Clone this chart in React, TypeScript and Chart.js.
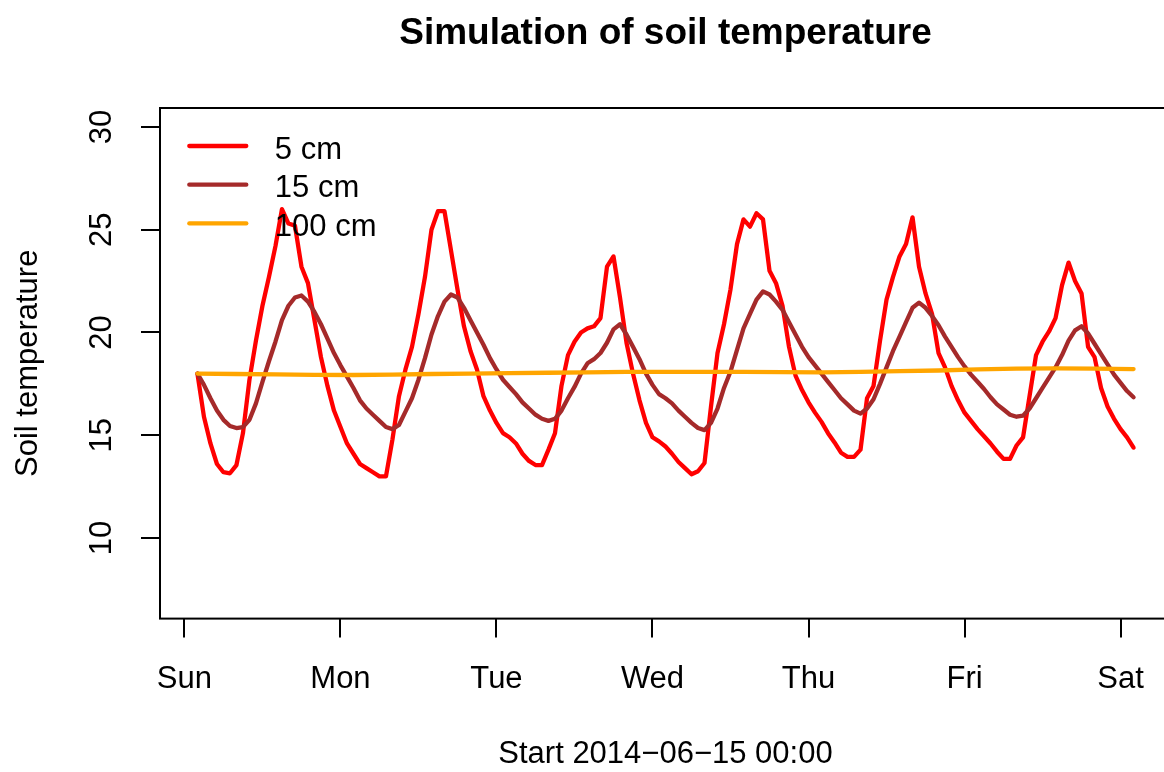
import React, { useEffect, useRef } from "react";
import { Chart, registerables } from "chart.js";

Chart.register(...registerables);

const FONT = '"Liberation Sans", Arial, Helvetica, sans-serif';

// ---- texts ----
const chartTitle = "Simulation of soil temperature";
const xAxisTitle = "Start 2014\u221206\u221215 00:00";
const yAxisTitle = "Soil temperature";

// ---- axes ----
const dayLabels = ["Sun", "Mon", "Tue", "Wed", "Thu", "Fri", "Sat"];
const dayTicks = [0, 24, 48, 72, 96, 120, 144]; // hours since Sun 00:00
const tempTicks = [10, 15, 20, 25, 30];
const yLimits = [7, 30];

// ---- series ----
const seriesNames = ["5 cm", "15 cm", "100 cm"];
const seriesColors = ["#FF0000", "#A52A2A", "#FFA500"];

// hourly samples, hour 2 .. hour 146
const hours = Array.from({ length: 145 }, (_, i) => i + 2);

const temp5cm = [
  18.0, 15.9, 14.6, 13.6, 13.2, 13.15, 13.55, 15.1, 17.7, 19.6, 21.3, 22.7,
  24.2, 26.0, 25.3, 25.2, 23.2, 22.4, 20.6, 18.8, 17.4, 16.2, 15.4, 14.6,
  14.1, 13.6, 13.4, 13.2, 13.0, 13.0, 14.8, 16.9, 18.2, 19.3, 20.9, 22.7,
  25.0, 25.9, 25.9, 24.0, 22.1, 20.3, 19.1, 18.2, 16.9, 16.2, 15.6, 15.1,
  14.9, 14.6, 14.1, 13.75, 13.55, 13.55, 14.3, 15.1, 17.4, 18.9, 19.55, 20.0,
  20.2, 20.3, 20.7, 23.2, 23.7, 21.7, 19.5, 18.0, 16.7, 15.6, 14.9, 14.7,
  14.45, 14.1, 13.7, 13.4, 13.1, 13.25, 13.65, 16.4, 19.0, 20.4, 22.1, 24.3,
  25.5, 25.15, 25.8, 25.5, 23.0, 22.4, 21.3, 19.3, 17.9, 17.2, 16.6, 16.1,
  15.65, 15.1, 14.65, 14.15, 13.95, 13.95, 14.3, 16.8, 17.4, 19.6, 21.6, 22.7,
  23.7, 24.3, 25.6, 23.2, 21.9, 20.9, 19.0, 18.3, 17.4, 16.7, 16.1, 15.7,
  15.3, 14.95, 14.6, 14.2, 13.85, 13.85, 14.5, 14.9, 16.9, 18.9, 19.55, 20.05,
  20.7, 22.3, 23.4, 22.5, 21.9, 19.3, 18.8, 17.3, 16.4, 15.8, 15.3, 14.9,
  14.4,
];

const temp15cm = [
  18.0, 17.45, 16.8, 16.2, 15.75, 15.45, 15.35, 15.4, 15.75, 16.55, 17.6, 18.6,
  19.55, 20.6, 21.3, 21.7, 21.8, 21.5, 21.0, 20.4, 19.7, 19.0, 18.4, 17.85,
  17.3, 16.7, 16.3, 16.0, 15.7, 15.4, 15.3, 15.5, 16.15, 16.8, 17.7, 18.75,
  19.9, 20.8, 21.5, 21.85, 21.7, 21.2, 20.6, 20.0, 19.4, 18.75, 18.2, 17.7,
  17.35, 17.0, 16.6, 16.3, 16.0, 15.8, 15.7, 15.8, 16.2, 16.8, 17.35, 18.0,
  18.5, 18.7, 19.0, 19.5, 20.15, 20.4, 19.9, 19.3, 18.7, 18.0, 17.45, 17.0,
  16.8, 16.55, 16.2, 15.9, 15.6, 15.35, 15.25, 15.6, 16.3, 17.3, 18.1, 19.15,
  20.2, 20.9, 21.6, 22.0, 21.85, 21.5, 21.1, 20.5, 19.9, 19.3, 18.8, 18.4,
  18.0, 17.6, 17.2, 16.8, 16.5, 16.2, 16.05, 16.3, 16.75, 17.5, 18.3, 19.1,
  19.8, 20.5, 21.2, 21.45, 21.2, 20.8, 20.35, 19.8, 19.3, 18.8, 18.35, 17.95,
  17.6, 17.25, 16.85, 16.5, 16.25, 16.0, 15.9, 15.95, 16.3, 16.8, 17.3, 17.8,
  18.3, 18.9, 19.6, 20.1, 20.3, 19.95, 19.45, 18.95, 18.45, 17.95, 17.55, 17.15,
  16.85,
];

// 100 cm read every 6 hours
const hours100cm = [
  2, 8, 14, 20, 26, 32, 38, 44, 50, 56, 62, 68, 74, 80, 86, 92, 98, 104, 110,
  116, 122, 128, 134, 140, 146,
];
const temp100cm = [
  18.0, 17.98, 17.96, 17.94, 17.93, 17.95, 17.98, 18.0, 18.02, 18.04, 18.06,
  18.08, 18.08, 18.08, 18.08, 18.07, 18.06, 18.08, 18.12, 18.15, 18.2, 18.24,
  18.25, 18.24, 18.22,
];

export default function App() {
  const ref = useRef<HTMLCanvasElement | null>(null);

  useEffect(() => {
    const canvas = ref.current;
    if (!canvas) return;
    const W = 1200;
    const H = 772;
    const area = { left: 160, top: 108, right: 1171, bottom: 618.6 };

    const xSpan = hours[hours.length - 1] - hours[0];
    const xMin = hours[0] - 0.04 * xSpan;
    const xMax = hours[hours.length - 1] + 0.04 * xSpan;
    const ySpan = yLimits[1] - yLimits[0];
    const yMin = yLimits[0] - 0.04 * ySpan;
    const yMax = yLimits[1] + 0.04 * ySpan;

    const seriesData = [
      hours.map((h, i) => ({ x: h, y: temp5cm[i] })),
      hours.map((h, i) => ({ x: h, y: temp15cm[i] })),
      hours100cm.map((h, i) => ({ x: h, y: temp100cm[i] })),
    ];

    const decor = {
      id: "rDecor",
      afterDraw(chart: any) {
        const ctx = chart.ctx as CanvasRenderingContext2D;
        const { left, right, top, bottom } = chart.chartArea;
        ctx.save();
        // box
        ctx.strokeStyle = "#000";
        ctx.lineWidth = 2;
        ctx.strokeRect(left, top, right - left, bottom - top);

        ctx.fillStyle = "#000";
        ctx.textBaseline = "alphabetic";
        ctx.textAlign = "center";
        // title
        ctx.font = `bold 37px ${FONT}`;
        ctx.fillText(chartTitle, (left + right) / 2, 44);
        // x title
        ctx.font = `31px ${FONT}`;
        ctx.fillText(xAxisTitle, (left + right) / 2, 763);
        // y title
        ctx.save();
        ctx.translate(36.5, (top + bottom) / 2);
        ctx.rotate(-Math.PI / 2);
        ctx.fillText(yAxisTitle, 0, 0);
        ctx.restore();
        // y tick labels (rotated like R)
        const ys = chart.scales.y;
        ys.ticks.forEach((t: any) => {
          const py = ys.getPixelForValue(t.value);
          ctx.save();
          ctx.translate(111, py);
          ctx.rotate(-Math.PI / 2);
          ctx.fillText(String(t.value), 0, 0);
          ctx.restore();
        });

        // legend
        ctx.textAlign = "left";
        ctx.lineCap = "round";
        seriesNames.forEach((name, i) => {
          const ly = 146 + i * 38.7;
          ctx.strokeStyle = seriesColors[i];
          ctx.lineWidth = 4.3;
          ctx.beginPath();
          ctx.moveTo(189.3, ly);
          ctx.lineTo(246.3, ly);
          ctx.stroke();
          ctx.fillStyle = "#000";
          ctx.fillText(name, 274.8, ly + 12.5);
        });
        ctx.restore();
      },
    };

    const chart = new Chart(canvas, {
      type: "line",
      data: {
        datasets: seriesData.map((d, i) => ({
          label: seriesNames[i],
          data: d,
          borderColor: seriesColors[i],
          backgroundColor: seriesColors[i],
          borderWidth: 4.3,
          pointRadius: 0,
          tension: 0,
          fill: false,
          borderCapStyle: "round",
          borderJoinStyle: "round",
          order: 3 - i,
        })),
      },
      options: {
        responsive: false,
        animation: false,
        devicePixelRatio: 1,
        events: [],
        layout: {
          padding: { top: area.top, right: W - area.right, left: 0, bottom: 0 },
        },
        plugins: {
          legend: { display: false },
          title: { display: false },
          tooltip: { enabled: false },
        },
        scales: {
          x: {
            type: "linear",
            min: xMin,
            max: xMax,
            afterBuildTicks: (s: any) => {
              s.ticks = dayTicks.map((v) => ({ value: v }));
            },
            afterFit: (s: any) => {
              s.height = H - area.bottom;
            },
            ticks: {
              autoSkip: false,
              minRotation: 0,
              maxRotation: 0,
              color: "#000",
              padding: 23,
              font: { family: FONT, size: 31 },
              callback: (v: any) => {
                const k = dayTicks.indexOf(Number(v));
                return k >= 0 ? dayLabels[k] : "";
              },
            },
            grid: {
              drawOnChartArea: false,
              drawTicks: true,
              tickLength: 19,
              color: "#000",
              lineWidth: 2,
            },
            border: { display: false },
          },
          y: {
            type: "linear",
            min: yMin,
            max: yMax,
            afterBuildTicks: (s: any) => {
              s.ticks = tempTicks.map((v) => ({ value: v }));
            },
            afterFit: (s: any) => {
              s.width = area.left;
            },
            ticks: { display: false },
            grid: {
              drawOnChartArea: false,
              drawTicks: true,
              tickLength: 19,
              color: "#000",
              lineWidth: 2,
            },
            border: { display: false },
          },
        },
      },
      plugins: [decor],
    } as any);

    return () => chart.destroy();
  }, []);

  return (
    <div
      style={{
        position: "fixed",
        left: 0,
        top: 0,
        width: 1164,
        height: 772,
        overflow: "hidden",
        background: "#fff",
      }}
    >
      <canvas ref={ref} width={1200} height={772} style={{ display: "block" }} />
    </div>
  );
}
